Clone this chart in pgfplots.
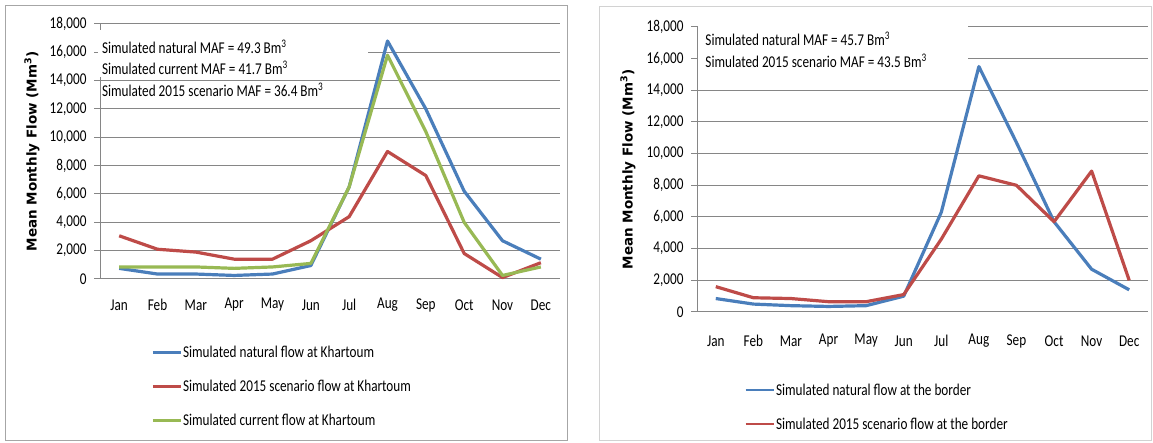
\documentclass[border=0pt]{standalone}
\usepackage{pgfplots}
\pgfplotsset{compat=1.18}
\usepackage{fontspec}
\setmainfont[FakeStretch=0.8]{Carlito}
\newfontfamily\labfont{DejaVu Sans}
\definecolor{cblue}{HTML}{4A7EBB}
\definecolor{cred}{HTML}{BE4B48}
\definecolor{cgreen}{HTML}{98B954}
\definecolor{cgrid}{HTML}{868686}

\pgfplotstableread{
m nat s2015 cur
1 750 3050 850
2 350 2100 850
3 350 1900 850
4 250 1400 750
5 350 1400 850
6 950 2700 1100
7 6500 4400 6500
8 16800 9000 15800
9 12000 7300 10400
10 6200 1800 4000
11 2700 100 250
12 1400 1150 850
}\khartoum

\pgfplotstableread{
m nat s2015
1 850 1600
2 500 900
3 400 850
4 350 650
5 400 650
6 1000 1100
7 6300 4600
8 15500 8600
9 10700 8000
10 5700 5700
11 2700 8900
12 1400 2000
}\border

\newcommand{\tf}{\fontsize{16.5}{19}\selectfont}

\pgfplotsset{
  flowstyle/.style={
    scale only axis,
    anchor=south west,
    xmin=0.5, xmax=12.5,
    ymin=0, ymax=18000,
    ytick={0,2000,...,18000},
    scaled y ticks=false,
    /pgf/number format/1000 sep={,},
    /pgf/number format/assume math mode=true,
    xtick={1,...,12},
    xticklabels={Jan,Feb,Mar,Apr,May,Jun,Jul,Aug,Sep,Oct,Nov,Dec},
    extra x ticks={0.5,1.5,...,12.5},
    extra x tick labels={},
    extra x tick style={major tick length=6pt, tick style={cgrid, line width=1pt}},
    axis x line*=bottom,
    axis y line*=left,
    axis line style={cgrid, line width=1pt},
    x tick style={draw=none},
    y tick style={cgrid, line width=1pt},
    major tick length=6pt,
    tick align=outside,
    ymajorgrids,
    grid style={cgrid, line width=1pt},
    tick label style={font=\tf},
    yticklabel style={xshift=-4pt},
    xticklabel style={anchor=center, yshift=-20pt},
    every axis y label/.style={at={(axis description cs:-0.148,0.5)}, rotate=90, anchor=center, font=\labfont\bfseries\fontsize{13.5}{15}\selectfont},
    ylabel={Mean Monthly Flow (Mm\textsuperscript{3})},
    clip=false,
    legend cell align=left,
    legend image code/.code={\draw[#1, line width=2.6pt] (0pt,0pt) -- (28pt,0pt);},
    legend style={draw=none, fill=none, font=\tf, row sep=19pt, anchor=north west, nodes={inner sep=1pt}},
    every axis plot/.append style={line width=3.2pt, line join=round},
  }
}

\begin{document}
\begin{tikzpicture}[x=1pt,y=1pt]
\useasboundingbox (0,0) rectangle (1153,443);
\fill[white] (0,0) rectangle (1153,443);
\draw[gray!70, line width=0.8pt] (5,3) rectangle (567,438);
\draw[gray!35, line width=0.8pt] (599,3) rectangle (1151,437);

\begin{axis}[flowstyle, at={(100pt,164pt)}, width=460pt, height=255pt,
  legend style={at={(axis description cs:0.105,-0.25)}}]
\fill[white] (axis cs:0.45,17600) rectangle (axis cs:7.5,14250);
\node[anchor=west, font=\tf, inner sep=0pt] at (axis cs:0.55,16380) {Simulated natural MAF = 49.3 Bm\textsuperscript{3}};
\node[anchor=west, font=\tf, inner sep=0pt] at (axis cs:0.55,14900) {Simulated current MAF = 41.7 Bm\textsuperscript{3}};
\node[anchor=west, font=\tf, inner sep=0pt] at (axis cs:0.55,13340) {Simulated 2015 scenario MAF = 36.4 Bm\textsuperscript{3}};
\addplot[cblue] table[x=m, y=nat] {\khartoum};
\addlegendentry{Simulated natural flow at Khartoum}
\addplot[cred] table[x=m, y=s2015] {\khartoum};
\addlegendentry{Simulated 2015 scenario flow at Khartoum}
\addplot[cgreen] table[x=m, y=cur] {\khartoum};
\addlegendentry{Simulated current flow at Khartoum}
\end{axis}

\begin{axis}[flowstyle, at={(697pt,131pt)}, width=451pt, height=285pt,
  every axis y label/.append style={at={(axis description cs:-0.153,0.5)}},
  xticklabel style={yshift=-3pt},
  legend style={at={(axis description cs:0.098,-0.24)}}]
\fill[white] (axis cs:0.53,18400) rectangle (axis cs:7.7,15400);
\node[anchor=west, font=\tf, inner sep=0pt] at (axis cs:0.72,17240) {Simulated natural MAF = 45.7 Bm\textsuperscript{3}};
\node[anchor=west, font=\tf, inner sep=0pt] at (axis cs:0.72,15850) {Simulated 2015 scenario MAF = 43.5 Bm\textsuperscript{3}};
\addplot[cblue] table[x=m, y=nat] {\border};
\addlegendentry{Simulated natural flow at the border}
\addplot[cred] table[x=m, y=s2015] {\border};
\addlegendentry{Simulated 2015 scenario flow at the border}
\end{axis}
\end{tikzpicture}
\end{document}
